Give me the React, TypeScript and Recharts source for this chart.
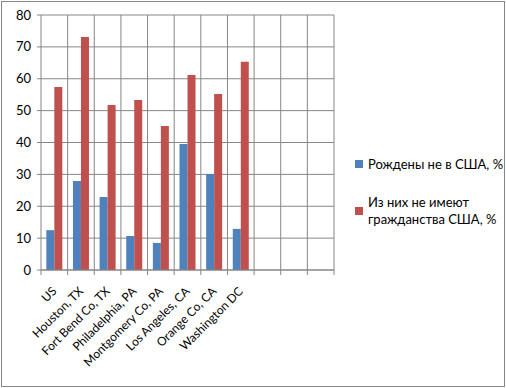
import { BarChart, Bar, XAxis, YAxis, CartesianGrid, Legend } from "recharts";

const categories = [
  "US",
  "Houston, TX",
  "Fort Bend Co, TX",
  "Philadelphia, PA",
  "Montgomery Co, PA",
  "Los Angeles, CA",
  "Orange Co, CA",
  "Washington DC",
  "",
  "",
  "",
];
const bornOutside = [12.5, 27.9, 22.9, 10.7, 8.5, 39.5, 30.1, 12.9];
const notCitizens = [57.4, 73.1, 51.8, 53.3, 45.2, 61.2, 55.2, 65.3];
const yTicks = [0, 10, 20, 30, 40, 50, 60, 70, 80];

const seriesNames = ["Рождены не в США, %", "Из них не имеют гражданства США, %"];
const colors = ["#4f81bd", "#c0504d"];

const data = categories.map((name, i) => ({
  name,
  born: bornOutside[i],
  notCitizen: notCitizens[i],
}));

const FONT = "Lato, 'Open Sans', sans-serif";
const GRID = "#868686";
const N = categories.length;

const XTick = ({ x, y, payload, index }: any) => {
  const half = 293 / N / 2;
  const tx = x + 3;
  const ty = y + 14;
  return (
    <g>
      <line x1={x - half} y1={y - 8} x2={x - half} y2={y - 3} stroke={GRID} />
      {index === N - 1 && (
        <line x1={x + half} y1={y - 8} x2={x + half} y2={y - 3} stroke={GRID} />
      )}
      <text
        x={tx}
        y={ty}
        textAnchor="end"
        fontSize={12}
        fontFamily={FONT}
        fill="#000"
        transform={`rotate(-45 ${tx} ${ty})`}
      >
        {payload.value}
      </text>
    </g>
  );
};

const LegendBox = () => (
  <div style={{ fontFamily: FONT, fontSize: 13, color: "#000", width: 150, whiteSpace: "nowrap", textAlign: "left" }}>
    <div style={{ display: "flex", alignItems: "center", marginBottom: 22 }}>
      <span style={{ width: 8, height: 8, background: colors[0], marginRight: 5, flexShrink: 0 }} />
      <span>{seriesNames[0]}</span>
    </div>
    <div style={{ display: "flex", alignItems: "center" }}>
      <span style={{ width: 8, height: 8, background: colors[1], marginRight: 5, flexShrink: 0 }} />
      <span style={{ lineHeight: "17px" }}>
        Из них не имеют
        <br />
        гражданства США, %
      </span>
    </div>
  </div>
);

export default function App() {
  return (
    <div
      style={{
        position: "absolute",
        left: 0,
        top: 0,
        width: 506,
        height: 388,
        background: "#fff",
      }}
    >
      <div
        style={{
          position: "absolute",
          left: 1,
          top: 1,
          width: 502,
          height: 384,
          border: `1px solid ${GRID}`,
        }}
      />
      <BarChart
        width={506}
        height={388}
        data={data}
        margin={{ top: 15, right: 172, bottom: 0, left: 0 }}
        barCategoryGap="20%"
        barGap={0}
      >
        <CartesianGrid
          stroke={GRID}
          strokeWidth={1}
          verticalCoordinatesGenerator={({ offset }: any) =>
            categories.map((_, i) => offset.left + ((i + 1) * offset.width) / N)
          }
        />
        <XAxis
          dataKey="name"
          height={118}
          axisLine={{ stroke: GRID }}
          tickLine={false}
          interval={0}
          tick={<XTick />}
        />
        <YAxis
          width={41}
          domain={[0, 80]}
          ticks={yTicks}
          interval={0}
          axisLine={{ stroke: GRID }}
          tickLine={{ stroke: GRID }}
          tickSize={4}
          tickMargin={6}
          tick={{ fontSize: 13, fontFamily: FONT, fill: "#000" }}
        />
        <Legend
          layout="horizontal"
          verticalAlign="middle"
          align="center"
          content={<LegendBox />}
          wrapperStyle={{ left: 355, top: 156, width: 150 }}
        />
        <Bar dataKey="born" name={seriesNames[0]} fill={colors[0]} isAnimationActive={false} />
        <Bar dataKey="notCitizen" name={seriesNames[1]} fill={colors[1]} isAnimationActive={false} />
      </BarChart>
    </div>
  );
}
